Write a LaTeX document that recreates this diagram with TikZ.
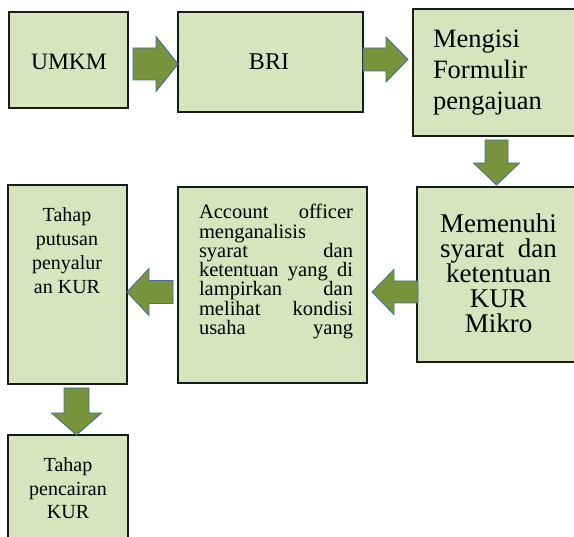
\documentclass[tikz,border=0pt]{standalone}
\usepackage{fontspec}
\setmainfont{Liberation Serif}
\usetikzlibrary{calc}
\definecolor{boxfill}{HTML}{D7E4BD}
\definecolor{arrfill}{HTML}{77933C}
\definecolor{arrline}{HTML}{41719C}
\definecolor{boxline}{HTML}{1A1A1A}
% horizontal block arrow: start, end (x only), half body, half head, signed head length
\newcommand\harrow[5]{%
  \draw[barrow] let \p1=#1, \p2=#2, \n1={\x2-(#5pt)} in
    (\x1,{\y1+#3pt}) -- (\n1,{\y1+#3pt}) -- (\n1,{\y1+#4pt}) -- (\x2,\y1)
    -- (\n1,{\y1-#4pt}) -- (\n1,{\y1-#3pt}) -- (\x1,{\y1-#3pt}) -- cycle;}
% downward block arrow: start, end (y only), half body, half head, head length
\newcommand\varrow[5]{%
  \draw[barrow] let \p1=#1, \p2=#2, \n1={\y2+#5pt} in
    ({\x1-#3pt},\y1) -- ({\x1-#3pt},\n1) -- ({\x1-#4pt},\n1) -- (\x1,\y2)
    -- ({\x1+#4pt},\n1) -- ({\x1+#3pt},\n1) -- ({\x1+#3pt},\y1) -- cycle;}
\begin{document}
\begin{tikzpicture}[x=1pt,y=-1pt,
  box/.style={draw=boxline, line width=1.1pt, fill=boxfill, inner sep=0pt, outer sep=0pt, anchor=north west},
  barrow/.style={draw=arrline, line width=0.9pt, fill=arrfill, line join=miter},
  txt/.style={inner sep=0pt, outer sep=0pt}]
\useasboundingbox (0,0) rectangle (574,537);
\clip (0,0) rectangle (574,537);
% boxes
\node[box, minimum width=119pt, minimum height=96pt] (umkm) at (9,12) {};
\node[box, minimum width=185pt, minimum height=100pt] (bri) at (178,12) {};
\node[box, minimum width=167pt, minimum height=127pt] (mengisi) at (413,9) {};
\node[box, minimum width=163pt, minimum height=175pt] (memenuhi) at (417,187) {};
\node[box, minimum width=189pt, minimum height=196pt] (account) at (178,187) {};
\node[box, minimum width=119pt, minimum height=199pt] (tahap) at (8,185) {};
\node[box, minimum width=120pt, minimum height=130pt] (cair) at (8,435) {};
% texts
\node[txt, font=\fontsize{23.5}{27}\selectfont, anchor=base] (tumkm) at (69,70) {UMKM};
\node[txt, font=\fontsize{24}{28}\selectfont, anchor=base] (tbri) at (269,70) {BRI};
\node[txt, font=\fontsize{26.5}{31}\selectfont, anchor=base west] (tmengisi) at (433,48)
  {\parbox[t]{140pt}{\raggedright Mengisi\\Formulir\\pengajuan}};
\node[txt, font=\fontsize{27}{25}\selectfont, anchor=base] (tmemenuhi) at (498.5,233)
  {\parbox[t]{160pt}{\lineskiplimit=-30pt\centering Memenuhi\\syarat\ \ dan\\ketentuan\\KUR\\Mikro}};
\node[txt, font=\fontsize{20.5}{19.25}\selectfont, anchor=base west] (taccount) at (199,219)
  {\parbox[t]{154pt}{\lineskiplimit=-30pt\makebox[154pt][s]{Account officer}\\
   menganalisis\\
   \makebox[154pt][s]{syarat dan}\\
   \makebox[154pt][s]{ketentuan yang di}\\
   \makebox[154pt][s]{lampirkan dan}\\
   \makebox[154pt][s]{melihat kondisi}\\
   \makebox[154pt][s]{usaha yang}}};
\node[txt, font=\fontsize{20}{23.7}\selectfont, anchor=base] (ttahap) at (67,222)
  {\parbox[t]{110pt}{\lineskiplimit=-30pt\centering Tahap\\putusan\\penyalur\\an KUR}};
\node[txt, font=\fontsize{20}{23.3}\selectfont, anchor=base] (tcair) at (68,472)
  {\parbox[t]{110pt}{\lineskiplimit=-30pt\centering Tahap\\pencairan\\KUR}};
% block arrows
\harrow{($(umkm.east)+(5,4)$)}{(bri.west)}{16}{27.5}{22}
\harrow{($(bri.east)+(0,-2.5)$)}{($(mengisi.west)+(-5,0)$)}{11.5}{22.5}{22}
\varrow{($(mengisi.south west)+(83.5,4)$)}{($(memenuhi.north)+(0,-2)$)}{11.5}{23}{22}
\harrow{($(memenuhi.west)+(1,17.5)$)}{($(account.east)+(5,0)$)}{11}{22.5}{-22}
\harrow{($(account.west)+(-5,7)$)}{(tahap.east)}{11.5}{23.5}{-22}
\varrow{($(tahap.south)+(9,4)$)}{(cair.north)}{12.5}{25}{22}
\end{tikzpicture}
\end{document}
